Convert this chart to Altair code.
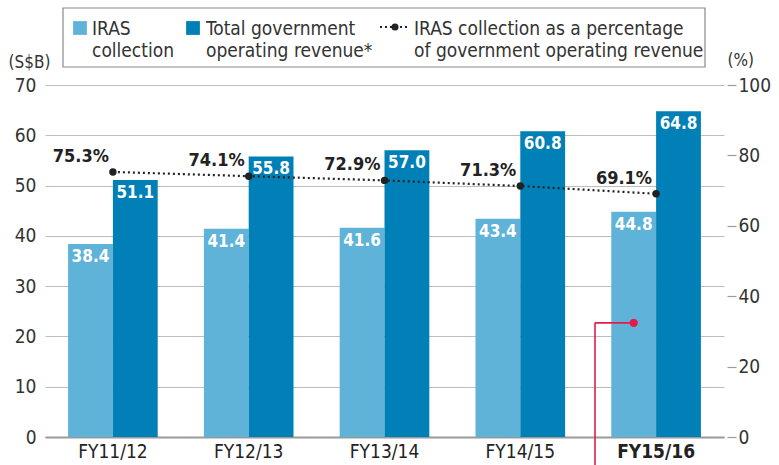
import altair as alt
import pandas as pd

categories = ["FY11/12", "FY12/13", "FY13/14", "FY14/15", "FY15/16"]
iras = [38.4, 41.4, 41.6, 43.4, 44.8]
total = [51.1, 55.8, 57.0, 60.8, 64.8]
pct = [75.3, 74.1, 72.9, 71.3, 69.1]
series_names = ["IRAS collection", "Total government operating revenue"]

FONT = "Liberation Sans Narrow, DejaVu Sans Condensed, sans-serif"
LIGHT = "#5fb3d8"
DARK = "#0080b6"
RED = "#e8194a"
TXT = "#222222"

bars = pd.DataFrame({
    "cat": categories * 2,
    "series": [series_names[0]] * 5 + [series_names[1]] * 5,
    "value": iras + total,
})
line = pd.DataFrame({"cat": categories, "pct": pct})
line["label"] = [f"{v:.1f}%" for v in pct]

W, H = 679, 352
xscale = alt.Scale(domain=categories, paddingInner=0.34, paddingOuter=0.17)
xaxis = alt.Axis(title=None, labelFontSize=19, labelColor=TXT, labelFont=FONT, labelPadding=5,
                 labelAngle=0, labelLimit=0,
                 ticks=False, domainColor="#9a9a9a", domainWidth=2,
                 labelFontWeight=alt.expr("datum.value == 'FY15/16' ? 'bold' : 'normal'"))
yscale = alt.Scale(domain=[0, 70], nice=False)
yaxis = alt.Axis(values=list(range(0, 71, 10)), title="(S$B)", titleAngle=0, titleX=-37, titleY=-23,
                 titleAlign="left", titleBaseline="middle", titleFont=FONT, titleFontSize=17,
                 titleFontWeight="normal", titleColor="#333333",
                 labelFont=FONT, labelFontSize=19, labelColor="#333333", labelPadding=9,
                 ticks=False, domain=False, grid=True, gridColor="#bdbdbd", gridWidth=1.2)

X = alt.X("cat:N", scale=xscale, sort=categories)
XO = alt.XOffset("series:N", sort=series_names)

base = alt.Chart(bars)
bar_layer = base.mark_bar().encode(
    x=alt.X("cat:N", scale=xscale, axis=xaxis, sort=categories),
    xOffset=XO,
    y=alt.Y("value:Q", scale=yscale, axis=yaxis),
    color=alt.Color("series:N", scale=alt.Scale(domain=series_names, range=[LIGHT, DARK]), legend=None),
)
bar_text = base.mark_text(baseline="top", dy=5, color="white", fontWeight="bold", fontSize=17, font=FONT).encode(
    x=X, xOffset=XO,
    y=alt.Y("value:Q", scale=yscale),
    text=alt.Text("value:Q", format=".1f"),
)

pscale = alt.Scale(domain=[0, 100], nice=False)
paxis = alt.Axis(values=[0, 20, 40, 60, 80, 100], orient="right", title="(%)", titleAngle=0,
                 titleX=0, titleY=-25, titleAlign="left", titleBaseline="middle", titleFont=FONT,
                 titleFontSize=17, titleFontWeight="normal", titleColor="#333333",
                 labelFont=FONT, labelFontSize=19, labelColor="#333333", labelPadding=2,
                 offset=3, tickSize=9, tickColor="#9a9a9a", tickWidth=1.2, domain=False, grid=False)
lbase = alt.Chart(line)
pline = lbase.mark_line(color=TXT, strokeDash=[2, 3], strokeWidth=2.2).encode(
    x=X, y=alt.Y("pct:Q", scale=pscale, axis=paxis),
)
ppts = lbase.mark_circle(color=TXT, size=55, opacity=1).encode(
    x=X, y=alt.Y("pct:Q", scale=pscale),
)
ptext = lbase.mark_text(align="right", baseline="bottom", dx=-4, dy=-6, color=TXT, fontWeight="bold",
                        fontSize=18, font=FONT).encode(
    x=X, y=alt.Y("pct:Q", scale=pscale), text="label:N",
)

# red callout marker on the latest IRAS bar
callout = pd.DataFrame({"cat": ["FY15/16"], "series": [series_names[0]], "value": [22.7]})
cbase = alt.Chart(callout)
c_dot = cbase.mark_circle(color=RED, size=70, opacity=1).encode(
    x=X, xOffset=XO, y=alt.Y("value:Q", scale=yscale),
)
c_h = cbase.mark_rule(color=RED, strokeWidth=1.6).encode(
    x=X, xOffset=XO, x2=alt.value(550), y=alt.Y("value:Q", scale=yscale),
)
c_v = cbase.mark_rule(color=RED, strokeWidth=1.6).encode(
    x=alt.value(550), y=alt.Y("value:Q", scale=yscale), y2=alt.value(400),
)

# legend box (manual)
lg = alt.Chart(pd.DataFrame({"k": [0]}))
box = lg.mark_rect(fill="white", stroke="#8a8a8a", strokeWidth=1.2).encode(
    x=alt.value(18), x2=alt.value(660), y=alt.value(-77), y2=alt.value(-18))
sq1 = lg.mark_square(color=LIGHT, size=190, opacity=1).encode(x=alt.value(35), y=alt.value(-57))
sq2 = lg.mark_square(color=DARK, size=190, opacity=1).encode(x=alt.value(148), y=alt.value(-57))
lg_line = lg.mark_rule(color=TXT, strokeDash=[2, 3], strokeWidth=2.2).encode(
    x=alt.value(335), x2=alt.value(365), y=alt.value(-58))
lg_dot = lg.mark_circle(color=TXT, size=50, opacity=1).encode(x=alt.value(350), y=alt.value(-58))
t1 = lg.mark_text(align="left", baseline="alphabetic", fontSize=19, font=FONT, color="#333333",
                  lineHeight=22, text=["IRAS", "collection"]).encode(x=alt.value(47), y=alt.value(-50))
t2 = lg.mark_text(align="left", baseline="alphabetic", fontSize=19, font=FONT, color="#333333",
                  lineHeight=22, text=["Total government", "operating revenue*"]).encode(x=alt.value(161), y=alt.value(-50))
t3 = lg.mark_text(align="left", baseline="alphabetic", fontSize=19, font=FONT, color="#333333",
                  lineHeight=22, text=["IRAS collection as a percentage", "of government operating revenue"]).encode(
    x=alt.value(369), y=alt.value(-50))

left = alt.layer(bar_layer, bar_text, c_h, c_v, c_dot, box, sq1, sq2, lg_line, lg_dot, t1, t2, t3)
right = alt.layer(pline, ppts, ptext)
chart = alt.layer(left, right).resolve_scale(
    y="independent"
).properties(
    width=W, height=H,
    autosize=alt.AutoSizeParams(type="none"),
    padding={"left": 45, "top": 85, "right": 55, "bottom": 28},
    background="white",
).configure_view(stroke=None)

chart.save("out.html", embed_options={"renderer": "svg", "actions": False})
